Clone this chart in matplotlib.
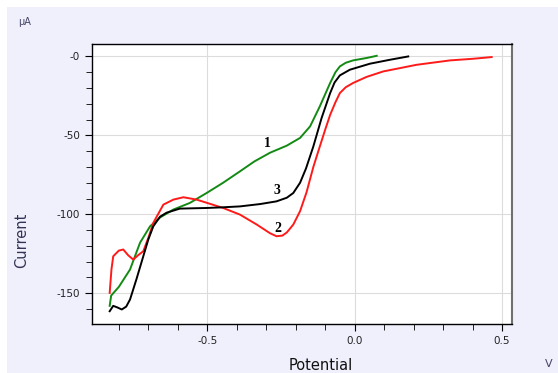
import numpy as np
import matplotlib.pyplot as plt
from matplotlib.patches import Rectangle
from matplotlib.ticker import MultipleLocator, FuncFormatter

# curve 1 (green)
pot1 = [-0.831, -0.826, -0.800, -0.762, -0.728, -0.694, -0.660, -0.615, -0.559,
        -0.502, -0.446, -0.389, -0.340, -0.287, -0.230, -0.185, -0.151, -0.118,
        -0.083, -0.065, -0.050, -0.030, -0.005, 0.040, 0.075]
cur1 = [-158.0, -151.5, -146.0, -135.0, -118.0, -107.6, -102.0, -97.0, -92.8,
        -86.5, -80.0, -72.8, -66.5, -61.0, -56.5, -51.6, -44.3, -31.6,
        -16.8, -10.0, -6.3, -4.0, -2.5, -1.0, 0.4]

# curve 2 (red)
pot2 = [-0.831, -0.825, -0.819, -0.800, -0.785, -0.768, -0.751, -0.735, -0.717,
        -0.700, -0.683, -0.649, -0.615, -0.581, -0.536, -0.446, -0.389, -0.332,
        -0.287, -0.265, -0.245, -0.230, -0.208, -0.185, -0.163, -0.140, -0.118,
        -0.100, -0.083, -0.065, -0.050, -0.030, -0.005, 0.040, 0.097, 0.210,
        0.324, 0.400, 0.465]
cur2 = [-149.8, -135.0, -126.6, -123.0, -122.3, -126.0, -128.7, -126.0, -123.4,
        -115.0, -105.4, -93.9, -90.7, -89.2, -90.7, -96.0, -100.2, -106.5,
        -112.0, -113.9, -113.5, -111.5, -106.5, -98.0, -86.0, -70.0, -57.0,
        -46.5, -37.0, -29.0, -23.2, -19.5, -16.8, -13.0, -9.5, -5.3,
        -2.5, -1.5, -0.4]

# curve 3 (black)
pot3 = [-0.831, -0.819, -0.805, -0.790, -0.775, -0.762, -0.740, -0.717, -0.700,
        -0.683, -0.660, -0.638, -0.593, -0.550, -0.502, -0.450, -0.389, -0.320,
        -0.265, -0.230, -0.208, -0.185, -0.165, -0.140, -0.112, -0.083, -0.068,
        -0.050, -0.016, 0.052, 0.120, 0.182]
cur3 = [-161.4, -158.0, -159.0, -160.3, -158.5, -154.0, -141.0, -126.6, -116.0,
        -107.6, -101.5, -99.0, -96.4, -96.2, -96.0, -95.6, -95.0, -93.5,
        -91.8, -89.5, -86.5, -80.0, -71.0, -57.0, -39.0, -23.2, -16.5,
        -12.0, -8.4, -4.6, -2.1, 0.0]

labels = ["1", "2", "3"]
label_pos = [(-0.295, -55.0), (-0.262, -109.0), (-0.262, -85.0)]

fig = plt.figure(figsize=(5.58, 3.73), dpi=100)
fig.patch.set_facecolor("white")
fig.patches.append(Rectangle((7 / 558, 0), 1, 1 - 7 / 373, transform=fig.transFigure,
                             facecolor="#f0f0fc", edgecolor="none", zorder=-10))

ax = fig.add_axes([92 / 558, 1 - 324 / 373, (511.7 - 92) / 558, (324 - 43.5) / 373])
ax.set_facecolor("white")

ax.plot(pot1, cur1, color="#138a13", lw=1.4)
ax.plot(pot2, cur2, color="#ff1a1a", lw=1.4)
ax.plot(pot3, cur3, color="black", lw=1.4)

for lab, (x, y) in zip(labels, label_pos):
    ax.text(x, y, lab, family="Liberation Serif", fontweight="bold", fontsize=10,
            ha="center", va="center")

ax.set_xlim(-0.891, 0.533)
ax.set_ylim(-169.5, 8.2)
ax.xaxis.set_major_locator(MultipleLocator(0.5))
ax.xaxis.set_minor_locator(MultipleLocator(0.1))
ax.yaxis.set_major_locator(MultipleLocator(50))
ax.yaxis.set_minor_locator(MultipleLocator(10))
ax.xaxis.set_major_formatter(FuncFormatter(lambda v, p: f"{v:.1f}"))
ax.yaxis.set_major_formatter(FuncFormatter(lambda v, p: "-0" if abs(v) < 1e-9 else f"{v:.0f}"))
ax.grid(True, which="major", color="#dcdcdc", lw=0.8)
ax.set_axisbelow(True)
ax.tick_params(which="both", direction="out", color="black", labelsize=7.5,
               labelcolor="#222222")
ax.tick_params(which="major", length=5)
ax.tick_params(which="minor", length=4)
for s in ["left", "bottom", "top"]:
    ax.spines[s].set_color("black")
    ax.spines[s].set_linewidth(1.0)
ax.spines["right"].set_color("#707070")
ax.spines["right"].set_linewidth(1.5)

fig.text(25 / 558, 1 - 22 / 373, "µA", fontsize=7, color="#444466", ha="center", va="center")
fig.text(22 / 558, 1 - 240 / 373, "Current", fontsize=10.5, color="#333355",
         rotation=90, ha="center", va="center")
fig.text(321 / 558, 1 - 365 / 373, "Potential", fontsize=10.5, color="#111111",
         ha="center", va="center")
fig.text(549 / 558, 1 - 364 / 373, "V", fontsize=8, color="#444466", ha="center", va="center")

fig.savefig("out.png", dpi=100)
